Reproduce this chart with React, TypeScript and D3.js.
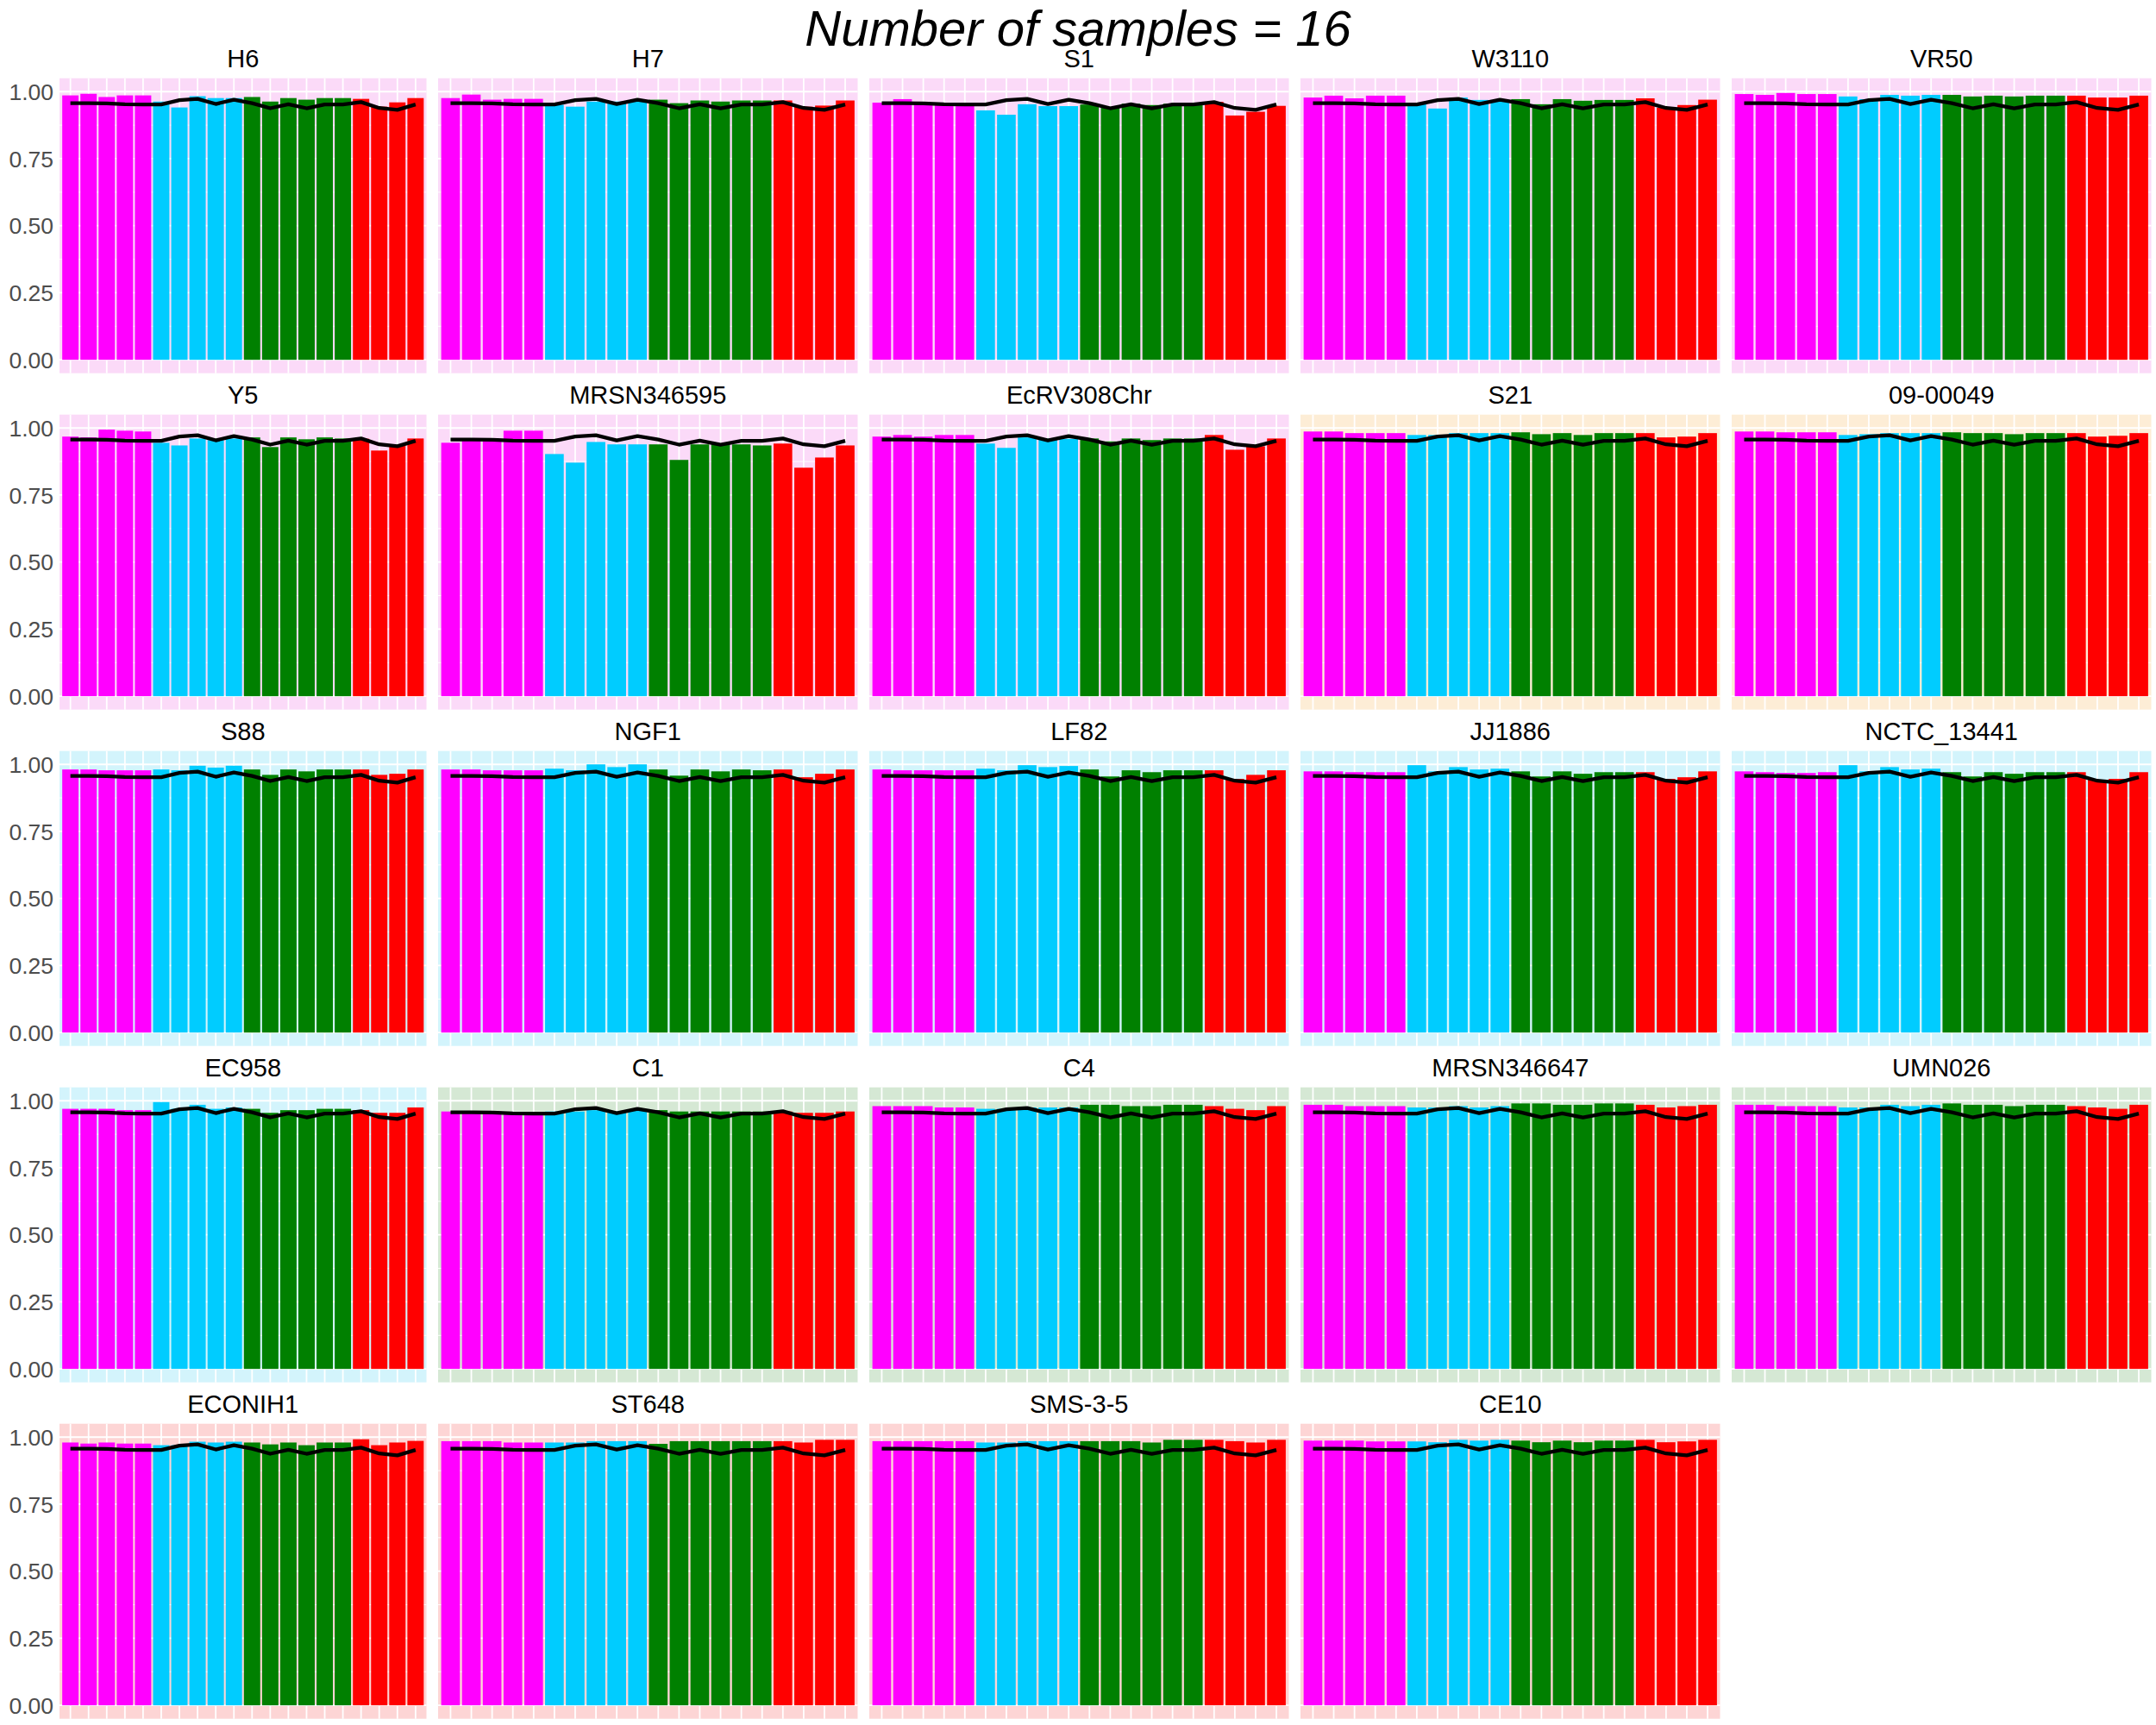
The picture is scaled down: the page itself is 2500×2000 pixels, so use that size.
import React from "react";
import * as d3 from "d3";

// ---- Data ----
const title = "Number of samples = 16";

// colour group of each of the 20 bars (same order in every panel)
const barGroups = [
  "A", "A", "A", "A", "A",
  "B", "B", "B", "B", "B",
  "C", "C", "C", "C", "C", "C",
  "D", "D", "D", "D",
];

// mean line (identical in every panel)
const meanLine = [0.957, 0.957, 0.956, 0.953, 0.952, 0.952, 0.968, 0.973, 0.954, 0.970,
  0.957, 0.938, 0.953, 0.938, 0.952, 0.952, 0.961, 0.939, 0.932, 0.952];

const strains = [
  "H6", "H7", "S1", "W3110", "VR50",
  "Y5", "MRSN346595", "EcRV308Chr", "S21", "09-00049",
  "S88", "NGF1", "LF82", "JJ1886", "NCTC_13441",
  "EC958", "C1", "C4", "MRSN346647", "UMN026",
  "ECONIH1", "ST648", "SMS-3-5", "CE10",
];

// background group of each panel
const strainBg = [
  "P", "P", "P", "P", "P",
  "P", "P", "P", "O", "O",
  "Cy", "Cy", "Cy", "Cy", "Cy",
  "Cy", "G", "G", "G", "G",
  "R", "R", "R", "R",
];

const H6 = [0.986, 0.992, 0.980, 0.986, 0.986, 0.963, 0.941, 0.983, 0.976, 0.976, 0.980, 0.963, 0.976, 0.970, 0.976, 0.976, 0.973, 0.944, 0.960, 0.976];
const H7 = [0.976, 0.989, 0.970, 0.973, 0.973, 0.951, 0.944, 0.963, 0.963, 0.963, 0.970, 0.957, 0.967, 0.963, 0.967, 0.967, 0.967, 0.944, 0.948, 0.967];
const S1 = [0.959, 0.972, 0.957, 0.957, 0.957, 0.930, 0.914, 0.953, 0.946, 0.946, 0.952, 0.940, 0.955, 0.950, 0.955, 0.955, 0.962, 0.911, 0.925, 0.947];
const W3110 = [0.978, 0.985, 0.975, 0.985, 0.985, 0.959, 0.937, 0.978, 0.969, 0.969, 0.972, 0.953, 0.972, 0.966, 0.969, 0.969, 0.975, 0.940, 0.950, 0.970];
const VR50 = [0.991, 0.988, 0.995, 0.991, 0.991, 0.982, 0.972, 0.988, 0.985, 0.988, 0.988, 0.982, 0.985, 0.982, 0.985, 0.985, 0.985, 0.978, 0.978, 0.985];
const Y5 = [0.968, 0.965, 0.994, 0.990, 0.987, 0.945, 0.935, 0.961, 0.955, 0.961, 0.965, 0.929, 0.965, 0.958, 0.965, 0.961, 0.960, 0.916, 0.935, 0.961];
const MRSN346595 = [0.945, 0.960, 0.960, 0.990, 0.990, 0.903, 0.871, 0.948, 0.939, 0.939, 0.939, 0.881, 0.939, 0.939, 0.939, 0.935, 0.942, 0.852, 0.890, 0.935];
const EcRV308Chr = [0.968, 0.974, 0.968, 0.974, 0.974, 0.942, 0.926, 0.965, 0.960, 0.960, 0.961, 0.950, 0.961, 0.955, 0.961, 0.961, 0.974, 0.919, 0.932, 0.961];
const S21 = [0.987, 0.987, 0.981, 0.981, 0.981, 0.974, 0.974, 0.981, 0.981, 0.981, 0.984, 0.977, 0.981, 0.974, 0.981, 0.981, 0.981, 0.965, 0.968, 0.981];
const S09_00049 = [0.987, 0.987, 0.984, 0.984, 0.984, 0.974, 0.977, 0.981, 0.981, 0.981, 0.984, 0.981, 0.981, 0.977, 0.981, 0.981, 0.981, 0.968, 0.971, 0.981];
const S88 = [0.981, 0.981, 0.978, 0.978, 0.978, 0.981, 0.978, 0.995, 0.988, 0.995, 0.981, 0.961, 0.981, 0.974, 0.981, 0.981, 0.981, 0.961, 0.965, 0.981];
const NGF1 = [0.981, 0.981, 0.978, 0.978, 0.978, 0.984, 0.978, 1.000, 0.990, 1.000, 0.981, 0.958, 0.981, 0.974, 0.981, 0.978, 0.981, 0.952, 0.965, 0.981];
const LF82 = [0.981, 0.978, 0.978, 0.978, 0.978, 0.984, 0.978, 0.997, 0.990, 0.994, 0.981, 0.955, 0.978, 0.971, 0.978, 0.978, 0.978, 0.946, 0.961, 0.978];
const JJ1886 = [0.974, 0.974, 0.971, 0.971, 0.971, 0.997, 0.974, 0.990, 0.981, 0.984, 0.974, 0.955, 0.974, 0.965, 0.971, 0.971, 0.971, 0.946, 0.952, 0.974];
const NCTC_13441 = [0.974, 0.971, 0.968, 0.968, 0.971, 0.997, 0.974, 0.990, 0.981, 0.984, 0.971, 0.955, 0.971, 0.965, 0.971, 0.971, 0.971, 0.943, 0.946, 0.971];
const EC958 = [0.970, 0.970, 0.970, 0.965, 0.965, 0.995, 0.970, 0.985, 0.970, 0.975, 0.970, 0.955, 0.965, 0.965, 0.970, 0.970, 0.965, 0.955, 0.955, 0.975];
const C1 = [0.960, 0.960, 0.960, 0.955, 0.955, 0.960, 0.960, 0.965, 0.960, 0.965, 0.965, 0.960, 0.960, 0.960, 0.960, 0.960, 0.960, 0.955, 0.955, 0.960];
const C4 = [0.980, 0.980, 0.980, 0.975, 0.975, 0.970, 0.970, 0.975, 0.975, 0.975, 0.985, 0.985, 0.980, 0.980, 0.985, 0.985, 0.980, 0.970, 0.965, 0.980];
const MRSN346647 = [0.985, 0.985, 0.980, 0.980, 0.980, 0.975, 0.975, 0.980, 0.975, 0.980, 0.990, 0.990, 0.985, 0.985, 0.990, 0.990, 0.985, 0.975, 0.980, 0.985];
const UMN026 = [0.985, 0.985, 0.980, 0.980, 0.980, 0.975, 0.975, 0.985, 0.980, 0.985, 0.990, 0.985, 0.985, 0.980, 0.985, 0.985, 0.980, 0.975, 0.970, 0.985];
const ECONIH1 = [0.980, 0.976, 0.980, 0.976, 0.976, 0.970, 0.970, 0.983, 0.980, 0.983, 0.980, 0.973, 0.980, 0.970, 0.980, 0.980, 0.992, 0.970, 0.980, 0.986];
const ST648 = [0.985, 0.985, 0.985, 0.980, 0.980, 0.980, 0.980, 0.985, 0.985, 0.985, 0.975, 0.985, 0.985, 0.985, 0.985, 0.985, 0.985, 0.980, 0.990, 0.990];
const SMS_3_5 = [0.985, 0.985, 0.985, 0.985, 0.985, 0.980, 0.980, 0.985, 0.985, 0.985, 0.985, 0.985, 0.985, 0.980, 0.990, 0.990, 0.990, 0.985, 0.980, 0.990];
const CE10 = [0.987, 0.987, 0.987, 0.984, 0.984, 0.984, 0.981, 0.990, 0.987, 0.990, 0.987, 0.981, 0.987, 0.981, 0.987, 0.987, 0.990, 0.981, 0.984, 0.990];

const strainValues = [
  H6, H7, S1, W3110, VR50,
  Y5, MRSN346595, EcRV308Chr, S21, S09_00049,
  S88, NGF1, LF82, JJ1886, NCTC_13441,
  EC958, C1, C4, MRSN346647, UMN026,
  ECONIH1, ST648, SMS_3_5, CE10,
];

const yTicks = [0, 0.25, 0.5, 0.75, 1.0];
const yTickLabels = ["0.00", "0.25", "0.50", "0.75", "1.00"];
const yMinor = [0.125, 0.375, 0.625, 0.875];

// ---- Styles ----
const barColor: Record<string, string> = {
  A: "#FF00FF",
  B: "#00CCFF",
  C: "#008000",
  D: "#FF0000",
};
const bgColor: Record<string, string> = {
  P: "#FBDAF8",
  O: "#FDEDD6",
  Cy: "#D3F4FC",
  G: "#D5E8D4",
  R: "#FDD5D5",
};

const W = 2500;
const H = 2000;
const FONT = "'Liberation Sans', Arial, Helvetica, sans-serif";

function Panel({ idx }: { idx: number }) {
  const col = idx % 5;
  const row = Math.floor(idx / 5);
  const left = col === 0 ? 69 : 500 * col + 8;
  const right = 500 * (col + 1) - 5.5;
  const top = 90.7 + 390 * row;
  const bottom = top + 342;
  const vals = strainValues[idx];
  const x = d3.scaleLinear().domain([0.4, vals.length + 0.6]).range([left, right]);
  const y = d3.scaleLinear().domain([-0.05, 1.05]).range([bottom, top]);
  const line = d3
    .line<number>()
    .x((_, i) => x(i + 1))
    .y((d) => y(d));
  const bw = x(1.45) - x(0.55);
  return (
    <g>
      <rect x={left} y={top} width={right - left} height={bottom - top} fill={bgColor[strainBg[idx]]} />
      {yMinor.map((t) => (
        <line key={"mi" + t} x1={left} x2={right} y1={y(t)} y2={y(t)} stroke="#fff" strokeWidth={0.9} />
      ))}
      {yTicks.map((t) => (
        <line key={"ma" + t} x1={left} x2={right} y1={y(t)} y2={y(t)} stroke="#fff" strokeWidth={1.8} />
      ))}
      {vals.map((_, i) => (
        <line key={"vx" + i} x1={x(i + 1)} x2={x(i + 1)} y1={top} y2={bottom} stroke="#fff" strokeWidth={1.8} />
      ))}
      {vals.map((v, i) => (
        <rect
          key={"b" + i}
          x={x(i + 1) - bw / 2}
          width={bw}
          y={y(v)}
          height={y(0) - y(v)}
          fill={barColor[barGroups[i]]}
        />
      ))}
      <path d={line(meanLine) || ""} fill="none" stroke="#000" strokeWidth={4.3} strokeLinejoin="round" strokeLinecap="butt" />
      <text
        x={(left + right) / 2}
        y={top - 12.5}
        textAnchor="middle"
        fontFamily={FONT}
        fontSize={29}
        fill="#000"
      >
        {strains[idx]}
      </text>
      {col === 0 &&
        yTicks.map((t, k) => (
          <text
            key={"yl" + t}
            x={62}
            y={y(t)}
            dy="0.36em"
            textAnchor="end"
            fontFamily={FONT}
            fontSize={26.5}
            fill="#4D4D4D"
          >
            {yTickLabels[k]}
          </text>
        ))}
    </g>
  );
}

export default function App() {
  return (
    <svg
      width={W}
      height={H}
      viewBox={`0 0 ${W} ${H}`}
      style={{ position: "absolute", left: 0, top: 0, background: "#fff" }}
    >
      <rect x={0} y={0} width={W} height={H} fill="#fff" />
      <text
        x={1250}
        y={53}
        textAnchor="middle"
        fontFamily={FONT}
        fontStyle="italic"
        fontSize={58}
        fill="#000"
      >
        {title}
      </text>
      {strains.map((_, i) => (
        <Panel key={i} idx={i} />
      ))}
    </svg>
  );
}
